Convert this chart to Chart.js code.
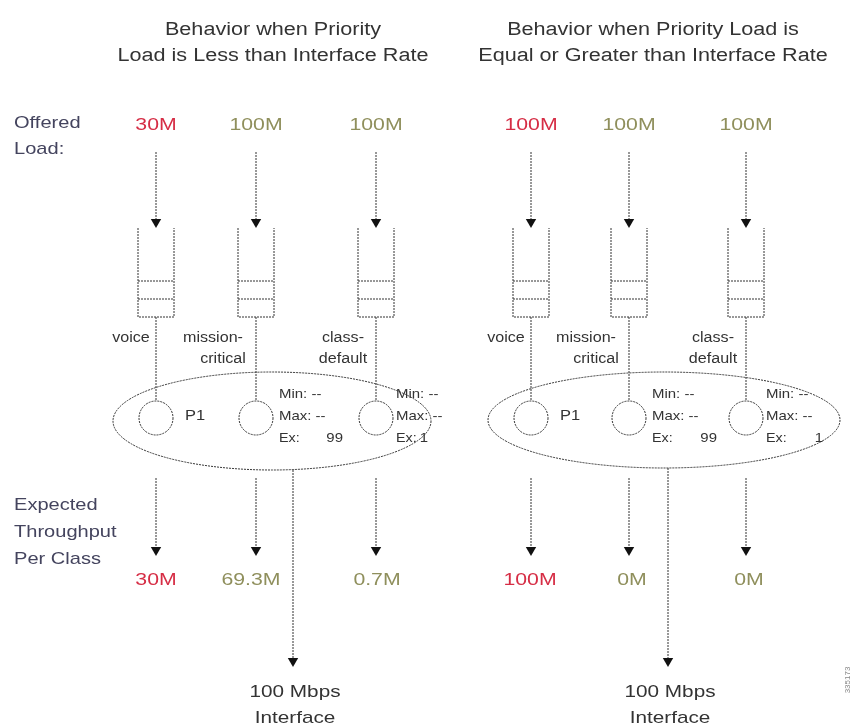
<!DOCTYPE html>
<html>
<head>
<meta charset="utf-8">
<script src="https://cdn.jsdelivr.net/npm/chart.js@4.4.1/dist/chart.umd.min.js"></script>
<style>
  body { margin: 0; background: #fff; }
  canvas { display: block; }
</style>
</head>
<body>
<canvas id="diagram" width="854" height="728"></canvas>
<script>
// --- data ---
const panelTitles = [
    ['Behavior when Priority', 'Load is Less than Interface Rate'],
    ['Behavior when Priority Load is', 'Equal or Greater than Interface Rate']
];
const rowOffered = ['Offered', 'Load:'];
const rowThroughput = ['Expected', 'Throughput', 'Per Class'];
const classNames = [['voice'], ['mission-', 'critical'], ['class-', 'default']];
const offeredLeft = ['30M', '100M', '100M'];
const offeredRight = ['100M', '100M', '100M'];
const throughputLeft = ['30M', '69.3M', '0.7M'];
const throughputRight = ['100M', '0M', '0M'];
const priorityLabel = ['P1', null, null];
const minBw = [null, '--', '--'];
const maxBw = [null, '--', '--'];
const excessRatio = [null, 99, 1];
const interfaceLabel = ['100 Mbps', 'Interface'];
const plateId = '335173';

// --- layout (canvas units) ---
const classX = [[156, 256, 376], [531, 629, 746]];
const ellipses = [{ cx: 272, cy: 421, rx: 159, ry: 49 }, { cx: 664, cy: 420, rx: 176, ry: 48 }];
const interfaceX = [293, 668];
const titleX = [273, 653];
const labelDx = [[-25], [-43, -33], [-33, -33]];
const textDx = [[0, 23, 20], [0, 23, 20]];
const exRight = [[0, 87, 52], [0, 88, 77]];
const throughputDx = [[0, -5, 1], [-1, 3, 3]];

const RED = '#d62d45';
const OLIVE = '#8f8f5c';
const INK = '#333333';
const ARROW = 6;

function segment(x1, y1, x2, y2, arrow) {
    return {
        data: [{ x: x1, y: y1 }, { x: x2, y: arrow ? y2 - ARROW : y2 }],
        showLine: true,
        borderColor: INK,
        borderWidth: 1,
        borderDash: [2, 1],
        pointRadius: arrow ? [0, ARROW] : 0,
        pointStyle: 'triangle',
        pointRotation: 180,
        pointBackgroundColor: '#111',
        pointBorderColor: '#111',
        pointBorderWidth: 0,
        clip: false
    };
}

function polyline(points) {
    return {
        data: points.map(p => ({ x: p[0], y: p[1] })),
        showLine: true,
        borderColor: INK,
        borderWidth: 1,
        borderDash: [2, 1],
        pointRadius: 0,
        clip: false
    };
}

const datasets = [];
classX.forEach((xs, p) => {
    xs.forEach(x => {
        datasets.push(segment(x, 152, x, 228, true));
        datasets.push(polyline([[x - 18, 228], [x - 18, 317], [x + 18, 317], [x + 18, 228]]));
        datasets.push(segment(x - 18, 281, x + 18, 281, false));
        datasets.push(segment(x - 18, 299, x + 18, 299, false));
        datasets.push(segment(x, 317, x, 401, false));
        datasets.push(segment(x, 478, x, 556, true));
    });
    datasets.push(segment(interfaceX[p], ellipses[p].cy + ellipses[p].ry, interfaceX[p], 667, true));
});

function drawText(chart, s, x, y, size, color, align, sx) {
    const ctx = chart.ctx;
    ctx.save();
    ctx.font = size + 'px "Liberation Sans", Arial, sans-serif';
    ctx.fillStyle = color;
    ctx.textAlign = align || 'center';
    ctx.textBaseline = 'alphabetic';
    ctx.translate(chart.scales.x.getPixelForValue(x), chart.scales.y.getPixelForValue(y));
    ctx.scale(sx || 1.2, 1);
    ctx.fillText(s, 0, 0);
    ctx.restore();
}

const shapesPlugin = {
    id: 'shapes',
    beforeDatasetsDraw(chart) {
        const ctx = chart.ctx;
        const sx = chart.scales.x, sy = chart.scales.y;
        ctx.save();
        ctx.strokeStyle = INK;
        ctx.lineWidth = 1;
        ctx.setLineDash([2, 1]);
        ellipses.forEach(e => {
            ctx.beginPath();
            ctx.ellipse(sx.getPixelForValue(e.cx), sy.getPixelForValue(e.cy),
                sx.getPixelForValue(e.rx) - sx.getPixelForValue(0),
                sy.getPixelForValue(e.ry) - sy.getPixelForValue(0), 0, 0, Math.PI * 2);
            ctx.stroke();
        });
        ctx.restore();
    },
    afterDatasetsDraw(chart) {
        const ctx = chart.ctx;
        const sx = chart.scales.x, sy = chart.scales.y;
        ctx.save();
        ctx.strokeStyle = INK;
        ctx.lineWidth = 1;
        ctx.setLineDash([2, 1]);
        classX.forEach(xs => xs.forEach(x => {
            ctx.beginPath();
            ctx.arc(sx.getPixelForValue(x), sy.getPixelForValue(418), 17, 0, Math.PI * 2);
            ctx.fillStyle = '#fff';
            ctx.fill();
            ctx.stroke();
        }));
        ctx.restore();
    },
    afterDraw(chart) {
        panelTitles.forEach((lines, p) => {
            drawText(chart, lines[0], titleX[p], 35, 18, INK, 'center', 1.2);
            drawText(chart, lines[1], titleX[p], 61, 18, INK, 'center', 1.2);
        });
        rowOffered.forEach((s, i) => drawText(chart, s, 14, 128 + i * 26, 17, '#44445e', 'left', 1.18));
        rowThroughput.forEach((s, i) => drawText(chart, s, 14, 510 + i * 27, 17, '#44445e', 'left', 1.18));

        [offeredLeft, offeredRight].forEach((vals, p) => vals.forEach((s, i) =>
            drawText(chart, s, classX[p][i], 130, 17, i === 0 ? RED : OLIVE, 'center', 1.25)));
        [throughputLeft, throughputRight].forEach((vals, p) => vals.forEach((s, i) =>
            drawText(chart, s, classX[p][i] + throughputDx[p][i], 585, 17, i === 0 ? RED : OLIVE, 'center', 1.25)));

        classX.forEach((xs, p) => xs.forEach((x, i) => {
            classNames[i].forEach((s, k) =>
                drawText(chart, s, x + labelDx[i][k], 342 + k * 21, 14, INK, 'center', 1.15));
            if (priorityLabel[i]) drawText(chart, priorityLabel[i], x + 29, 420, 15, INK, 'left', 1.1);
            if (minBw[i]) {
                const tx = x + textDx[p][i];
                drawText(chart, 'Min: ' + minBw[i], tx, 398, 13, INK, 'left', 1.15);
                drawText(chart, 'Max: ' + maxBw[i], tx, 420, 13, INK, 'left', 1.15);
                drawText(chart, 'Ex:', tx, 442, 13, INK, 'left', 1.1);
                drawText(chart, String(excessRatio[i]), x + exRight[p][i], 442, 13, INK, 'right', 1.15);
            }
        }));

        interfaceX.forEach(x => interfaceLabel.forEach((s, k) =>
            drawText(chart, s, x + 2, 697 + k * 26, 17, INK, 'center', 1.22)));

        const ctx = chart.ctx;
        ctx.save();
        ctx.translate(chart.scales.x.getPixelForValue(848), chart.scales.y.getPixelForValue(680));
        ctx.rotate(-Math.PI / 2);
        ctx.font = '8px "Liberation Sans", Arial, sans-serif';
        ctx.fillStyle = '#888';
        ctx.textAlign = 'center';
        ctx.textBaseline = 'middle';
        ctx.fillText(plateId, 0, 0);
        ctx.restore();
    }
};

new Chart(document.getElementById('diagram').getContext('2d'), {
    type: 'scatter',
    data: { datasets: datasets },
    options: {
        responsive: false,
        animation: false,
        devicePixelRatio: 1,
        layout: { padding: 0, autoPadding: false },
        plugins: { legend: { display: false }, tooltip: { enabled: false } },
        scales: {
            x: { type: 'linear', min: 0, max: 854, display: false },
            y: { type: 'linear', min: 0, max: 728, reverse: true, display: false }
        }
    },
    plugins: [shapesPlugin]
});
</script>
</body>
</html>
